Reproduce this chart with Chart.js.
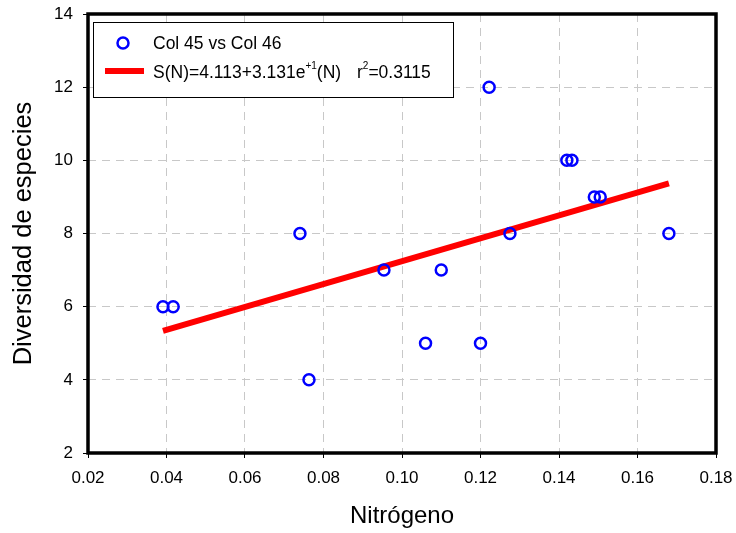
<!DOCTYPE html>
<html>
<head>
<meta charset="utf-8">
<script src="https://cdn.jsdelivr.net/npm/chart.js"></script>
<style>
  html, body { margin: 0; padding: 0; background: #fff; }
  #wrap { width: 736px; height: 533px; }
</style>
</head>
<body>
<div id="wrap"><canvas id="chart"></canvas></div>
<script>
// nitrogen vs species diversity
const nitrogen  = [0.0391, 0.0417, 0.0740, 0.0763, 0.0954, 0.1060, 0.1100, 0.1200, 0.1222, 0.1275, 0.1420, 0.1433, 0.1490, 0.1505, 0.1680];
const diversity = [6, 6, 8, 4, 7, 5, 7, 5, 12, 8, 10, 10, 9, 9, 8];

// regression line endpoints
const fitX = [0.0391, 0.1680];
const fitY = [5.34, 9.37];

const xTicks = [0.02, 0.04, 0.06, 0.08, 0.10, 0.12, 0.14, 0.16, 0.18];
const yTicks = [2, 4, 6, 8, 10, 12, 14];

const pointData = nitrogen.map((x, i) => ({ x: x, y: diversity[i] }));
const fitData = fitX.map((x, i) => ({ x: x, y: fitY[i] }));

const FONT = '"Liberation Sans", Arial, sans-serif';

const frameAndLegend = {
  id: 'frameAndLegend',
  afterDraw(chart) {
    const ctx = chart.ctx;
    const a = chart.chartArea;
    ctx.save();
    // thick frame
    ctx.strokeStyle = '#000';
    ctx.lineWidth = 3.5;
    ctx.strokeRect(a.left, a.top, a.right - a.left, a.bottom - a.top);

    // legend box
    const bx = 93, by = 22, bw = 360, bh = 75;
    ctx.fillStyle = '#fff';
    ctx.fillRect(bx, by, bw, bh);
    ctx.lineWidth = 1;
    ctx.strokeRect(bx + 0.5, by + 0.5, bw, bh);

    ctx.strokeStyle = '#0000ff';
    ctx.lineWidth = 2.5;
    ctx.beginPath();
    ctx.arc(123, 43, 5.5, 0, Math.PI * 2);
    ctx.stroke();

    ctx.strokeStyle = '#ff0000';
    ctx.lineWidth = 6;
    ctx.beginPath();
    ctx.moveTo(105, 71);
    ctx.lineTo(144, 71);
    ctx.stroke();

    ctx.fillStyle = '#000';
    ctx.textBaseline = 'middle';
    ctx.textAlign = 'left';
    const big = '17.5px ' + FONT;
    const small = '10px ' + FONT;
    ctx.font = big;
    ctx.fillText('Col 45 vs Col 46', 153, 44);

    let x = 153;
    const y = 73;
    const part = (t, f, dy) => {
      ctx.font = f;
      ctx.fillText(t, x, y + dy);
      x += ctx.measureText(t).width;
    };
    part('S(N)=4.113+3.131e', big, 0);
    part('+1', small, -7);
    part('(N)', big, 0);
    x = 357;
    part('r', big, 0);
    part('2', small, -7);
    part('=0.3115', big, 0);
    ctx.restore();
  }
};

new Chart(document.getElementById('chart'), {
  type: 'scatter',
  data: {
    datasets: [
      {
        label: 'Col 45 vs Col 46',
        data: pointData,
        pointRadius: 5.5,
        pointBorderWidth: 2.5,
        pointBorderColor: '#0000ff',
        pointBackgroundColor: 'rgba(0,0,0,0)',
        order: 1
      },
      {
        label: 'fit',
        data: fitData,
        showLine: true,
        borderColor: '#ff0000',
        borderWidth: 6,
        pointRadius: 0,
        order: 2
      }
    ]
  },
  options: {
    responsive: true,
    maintainAspectRatio: false,
    animation: false,
    layout: { padding: { top: 14, right: 20, left: 0, bottom: 0 } },
    plugins: { legend: { display: false }, tooltip: { enabled: false } },
    scales: {
      x: {
        type: 'linear',
        min: 0.02,
        max: 0.18,
        afterBuildTicks: s => { s.ticks = xTicks.map(v => ({ value: v })); },
        afterFit: s => { s.height = 80; s.paddingLeft = 0; s.paddingRight = 0; },
        ticks: {
          color: '#000',
          font: { family: FONT, size: 17 },
          padding: 10,
          callback: v => v.toFixed(2)
        },
        grid: {
          color: '#c8c8c8',
          lineWidth: 1,
          tickLength: 5,
          tickColor: '#000',
          tickWidth: 1
        },
        border: { display: false, dash: [8, 6] },
        title: {
          display: true,
          text: 'Nitrógeno',
          color: '#000',
          font: { family: FONT, size: 24 },
          padding: { top: 10, bottom: 2 }
        }
      },
      y: {
        type: 'linear',
        min: 2,
        max: 14,
        afterBuildTicks: s => { s.ticks = yTicks.map(v => ({ value: v })); },
        afterFit: s => { s.width = 88; s.paddingTop = 0; s.paddingBottom = 0; },
        ticks: {
          color: '#000',
          font: { family: FONT, size: 17 },
          padding: 10
        },
        grid: {
          color: '#c8c8c8',
          lineWidth: 1,
          tickLength: 5,
          tickColor: '#000',
          tickWidth: 1
        },
        border: { display: false, dash: [8, 6] },
        title: {
          display: true,
          text: 'Diversidad de especies',
          color: '#000',
          font: { family: FONT, size: 25.5 },
          padding: { bottom: 0, top: 9 }
        }
      }
    }
  },
  plugins: [frameAndLegend]
});
</script>
</body>
</html>
